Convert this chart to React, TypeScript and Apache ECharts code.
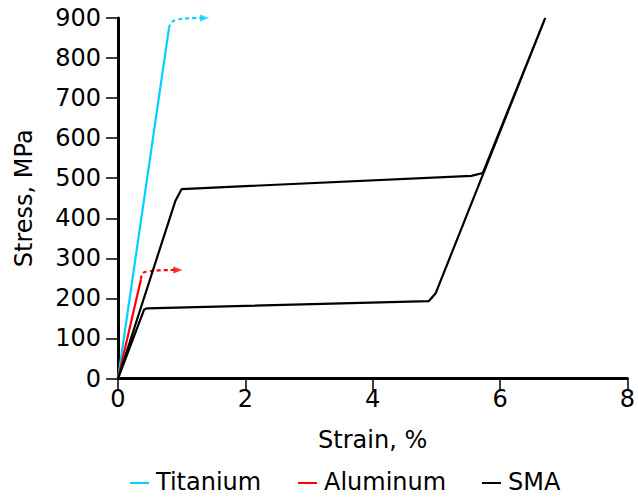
import React, { useEffect, useRef } from "react";
import * as echarts from "echarts";

const xTicks = [0, 2, 4, 6, 8];
const yTicks = [0, 100, 200, 300, 400, 500, 600, 700, 800, 900];
const legendNames = ["Titanium", "Aluminum", "SMA"];

const titaniumSolid: [number, number][] = [
  [0, 0],
  [0.8, 874],
];
const titaniumDashed: [number, number][] = [
  [0.8, 874],
  [0.84, 889],
  [0.92, 895],
  [1.08, 899],
  [1.34, 900],
];
const titaniumArrow: [number, number][] = [[1.36, 900]];

const aluminumSolid: [number, number][] = [
  [0, 0],
  [0.36, 247],
];
const aluminumDashed: [number, number][] = [
  [0.36, 247],
  [0.39, 263],
  [0.47, 267],
  [0.65, 270],
  [0.92, 271],
];
const aluminumArrow: [number, number][] = [[0.94, 271]];

const smaLoop: [number, number][] = [
  [0, 0],
  [0.9, 443],
  [1.0, 473],
  [5.55, 506],
  [5.73, 513],
  [6.71, 900],
  [4.99, 213],
  [4.88, 193],
  [0.45, 175],
  [0.41, 172],
  [0, 0],
];

const TI = "#00d2ff";
const AL = "#ff0000";
const SMA = "#000000";
const FONT = "DejaVu Sans";
const FS = 24;

export default function App() {
  const ref = useRef<HTMLDivElement>(null);
  useEffect(() => {
    if (!ref.current) return;
    const chart = echarts.init(ref.current, undefined, { renderer: "svg" });
    const solid = (name: string, data: [number, number][], color: string) => ({
      type: "line",
      name,
      data,
      showSymbol: false,
      symbol: "none",
      lineStyle: { color, width: 2.2 },
      itemStyle: { color },
      silent: true,
    });
    const dashed = (name: string, data: [number, number][], color: string) => ({
      type: "line",
      name,
      data,
      smooth: 0.5,
      showSymbol: false,
      symbol: "none",
      lineStyle: { color, width: 2.2, type: [4, 3] },
      itemStyle: { color },
      silent: true,
    });
    const arrow = (name: string, data: [number, number][], color: string) => ({
      type: "scatter",
      name,
      data,
      symbol: "triangle",
      symbolSize: [7, 9],
      symbolRotate: -90,
      itemStyle: { color },
      silent: true,
    });
    const legendColors = [TI, AL, SMA];
    const legendX = [130, 298, 482];
    const legendGraphic = legendNames.flatMap((name, i) => [
      {
        type: "rect",
        x: legendX[i],
        y: 482,
        shape: { x: 0, y: 0, width: 19, height: 2 },
        style: { fill: legendColors[i] },
        silent: true,
      },
      {
        type: "text",
        x: legendX[i] + 26,
        y: 482,
        style: {
          text: name,
          fill: "#000",
          fontSize: FS,
          fontFamily: FONT,
          verticalAlign: "middle",
          align: "left",
        },
        silent: true,
      },
    ]);
    chart.setOption({
      animation: false,
      textStyle: { fontFamily: FONT },
      grid: { left: 118, right: 6, top: 18, bottom: 119.5, containLabel: false },
      xAxis: {
        type: "value",
        min: xTicks[0],
        max: xTicks[xTicks.length - 1],
        interval: 2,
        name: "Strain, %",
        nameLocation: "middle",
        nameGap: 49,
        nameTextStyle: { fontSize: FS, color: "#000", fontFamily: FONT },
        axisLine: { show: true, onZero: false, lineStyle: { color: "#000", width: 3 } },
        axisTick: { show: true, length: 12, lineStyle: { color: "#000", width: 1.5 } },
        axisLabel: { fontSize: FS, color: "#000", margin: 8, fontFamily: FONT },
        splitLine: { show: false },
      },
      yAxis: {
        type: "value",
        min: yTicks[0],
        max: yTicks[yTicks.length - 1],
        interval: 100,
        name: "Stress, MPa",
        nameLocation: "middle",
        nameGap: 82,
        nameTextStyle: { fontSize: FS, color: "#000", fontFamily: FONT },
        axisLine: { show: true, onZero: false, lineStyle: { color: "#000", width: 3 } },
        axisTick: { show: true, length: 12, lineStyle: { color: "#000", width: 1.5 } },
        axisLabel: { fontSize: FS, color: "#000", margin: 17, fontFamily: FONT },
        splitLine: { show: false },
      },
      graphic: legendGraphic,
      series: [
        solid("Titanium", titaniumSolid, TI),
        dashed("Titanium-ext", titaniumDashed, TI),
        arrow("Titanium-arrow", titaniumArrow, TI),
        solid("Aluminum", aluminumSolid, AL),
        dashed("Aluminum-ext", aluminumDashed, AL),
        arrow("Aluminum-arrow", aluminumArrow, AL),
        solid("SMA", smaLoop, SMA),
      ],
    });
    return () => chart.dispose();
  }, []);
  return <div ref={ref} style={{ width: 638, height: 498, position: "absolute", left: 0, top: 0 }} />;
}
